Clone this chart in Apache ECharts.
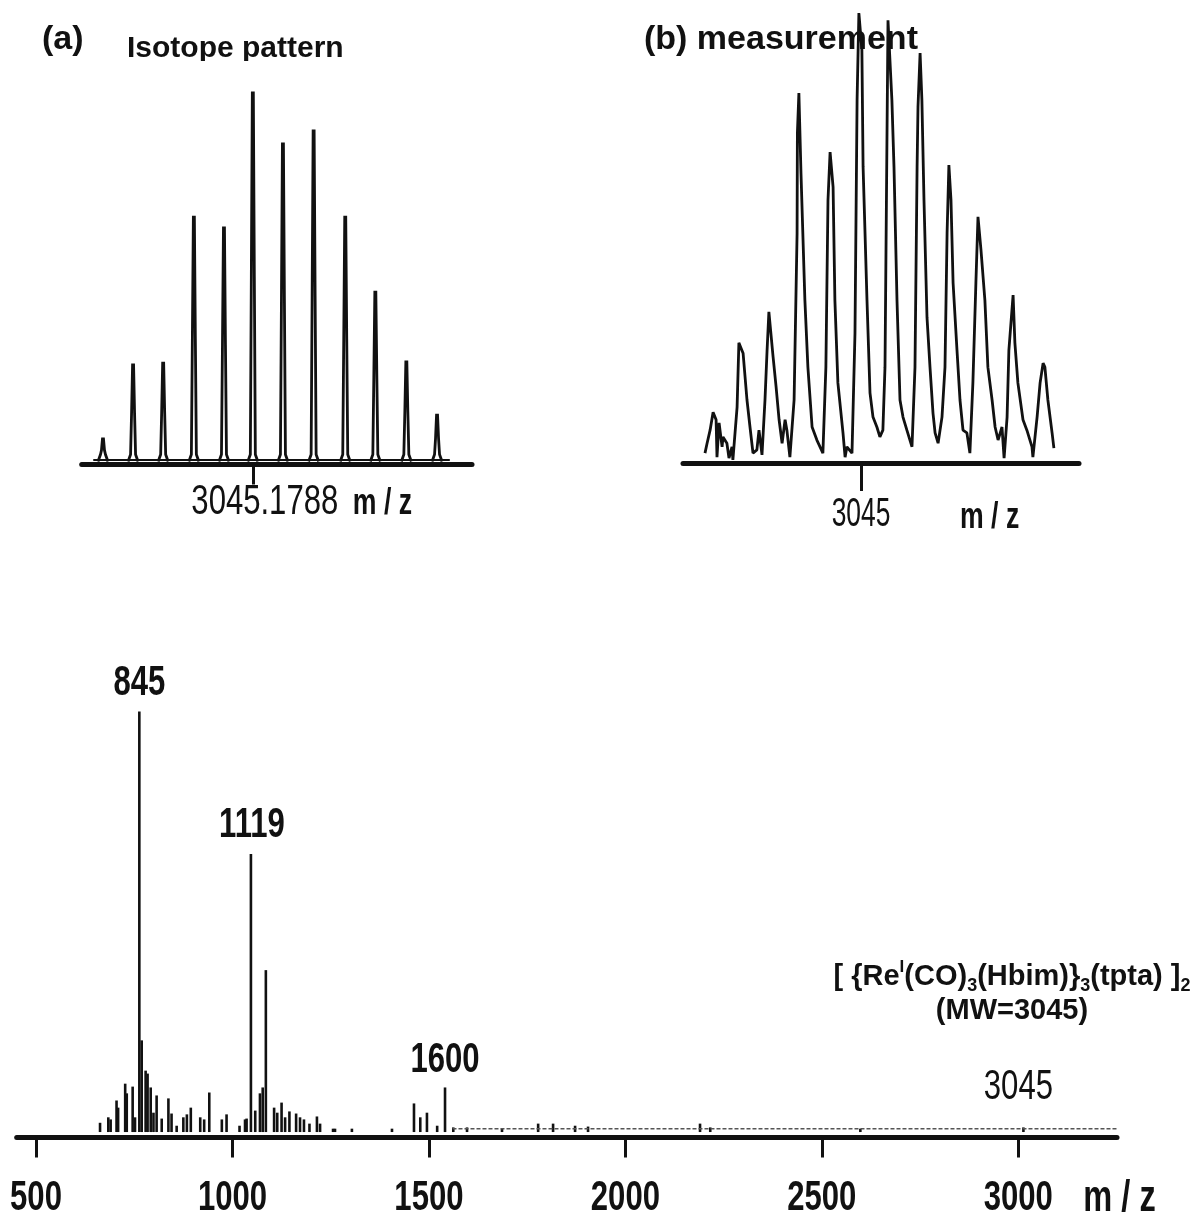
<!DOCTYPE html>
<html>
<head>
<meta charset="utf-8">
<title>MS spectrum</title>
<script src="https://cdn.jsdelivr.net/npm/echarts@6/dist/echarts.min.js"></script>
<style>
  html, body { margin: 0; padding: 0; background: #fff; }
  #chart { width: 1203px; height: 1221px; }
</style>
</head>
<body>
<div id="chart"></div>
<script>
// (a) calculated isotope pattern: peak m/z + relative intensity (%)
const isoMz = [3040.25, 3041.24, 3042.23, 3043.24, 3044.23, 3045.18, 3046.17, 3047.18, 3048.22, 3049.21, 3050.23, 3051.24]
const isoInt = [6.9, 26.8, 27.3, 66.6, 63.7, 100, 86.3, 89.8, 66.6, 46.4, 27.6, 13.3]
const isoBaseline = [[3039.93, 1.2], [3051.66, 1.2]]
const isoTicks = [3045.1788]

// (b) measured trace [m/z, relative intensity]
const measTrace = [
  [3039.80, 2.2], [3039.87, 4.4], [3039.97, 7.3], [3040.07, 11.3], [3040.17, 9.6], [3040.20, 1.3],
  [3040.27, 8.9], [3040.37, 3.6], [3040.40, 5.8], [3040.53, 4.4], [3040.60, 1.1], [3040.70, 3.6],
  [3040.73, 0.7], [3040.87, 12.4], [3040.93, 26.7], [3041.07, 24.4], [3041.20, 14.0], [3041.30, 8.0],
  [3041.40, 2.2], [3041.53, 2.9], [3041.60, 7.3], [3041.70, 1.8], [3041.80, 14.0], [3041.87, 25.1],
  [3041.93, 33.6], [3042.07, 23.6], [3042.17, 16.9], [3042.27, 9.6], [3042.37, 4.4], [3042.47, 9.6],
  [3042.53, 7.3], [3042.63, 1.3], [3042.77, 14.0], [3042.87, 51.1], [3042.88, 73.3], [3042.93, 82.2],
  [3043.00, 64.4], [3043.13, 36.2], [3043.23, 21.3], [3043.37, 8.0], [3043.53, 5.1], [3043.73, 2.2],
  [3043.83, 21.3], [3043.90, 58.4], [3043.97, 69.1], [3044.07, 61.3], [3044.13, 36.2], [3044.23, 17.8],
  [3044.40, 6.7], [3044.47, 1.3], [3044.53, 3.6], [3044.70, 2.2], [3044.80, 28.9], [3044.87, 80.7],
  [3044.93, 100], [3045.03, 91.8], [3045.07, 65.8], [3045.20, 36.2], [3045.30, 15.6], [3045.40, 10.2],
  [3045.53, 8.0], [3045.63, 5.8], [3045.73, 7.3], [3045.80, 21.3], [3045.90, 98.4], [3046.03, 80.7],
  [3046.10, 65.8], [3046.20, 36.2], [3046.30, 14.0], [3046.40, 10.2], [3046.53, 7.3], [3046.70, 3.6],
  [3046.80, 21.3], [3046.87, 65.8], [3046.90, 79.1], [3046.97, 91.1], [3047.03, 80.7], [3047.10, 58.4],
  [3047.20, 32.4], [3047.30, 21.3], [3047.40, 11.1], [3047.47, 6.7], [3047.57, 4.4], [3047.70, 10.2],
  [3047.80, 21.3], [3047.87, 51.1], [3047.93, 66.2], [3048.00, 58.4], [3048.07, 40.0], [3048.20, 25.1],
  [3048.30, 14.0], [3048.40, 7.3], [3048.53, 6.7], [3048.63, 2.2], [3048.73, 17.8], [3048.83, 40.0],
  [3048.90, 54.7], [3049.00, 47.3], [3049.13, 36.2], [3049.23, 21.3], [3049.37, 14.0], [3049.47, 8.0],
  [3049.57, 5.1], [3049.70, 8.0], [3049.77, 1.1], [3049.87, 10.2], [3049.93, 25.1], [3050.07, 37.3],
  [3050.13, 26.7], [3050.23, 17.8], [3050.40, 9.6], [3050.53, 7.3], [3050.70, 3.6], [3050.73, 1.3],
  [3050.87, 10.2], [3050.97, 17.8], [3051.07, 22.2], [3051.13, 21.3], [3051.23, 14.0], [3051.37, 6.7],
  [3051.43, 3.3]
]
const measTicks = [3045]

// full spectrum sticks
const specMz = [663, 684, 690, 705, 709, 727, 731, 746, 752, 763, 769, 779, 784, 792, 799, 807, 820, 837, 845, 858,
  875, 884, 894, 918, 928, 941, 973, 985, 1018, 1032, 1036, 1047, 1058, 1070, 1077, 1085, 1106, 1114, 1125, 1134,
  1145, 1162, 1172, 1182, 1196, 1215, 1223, 1256, 1261, 1304, 1406, 1462, 1478, 1495, 1521, 1541, 1562, 1597, 1686,
  1778, 1816, 1872, 1905, 2190, 2216, 2598, 3013]
const specInt = [2.2, 3.5, 3.0, 7.5, 5.8, 11.5, 9.2, 10.8, 3.5, 100, 21.8, 14.6, 13.9, 10.6, 4.6, 8.7, 3.2, 8.0, 4.4, 1.5,
  3.5, 4.2, 5.8, 3.5, 3.0, 9.4, 3.0, 4.2, 1.5, 3.0, 3.2, 66.1, 5.1, 9.2, 10.6, 38.5, 5.8, 4.6, 7.0, 3.5,
  4.9, 4.4, 3.5, 3.0, 2.0, 3.7, 2.0, 0.8, 0.8, 0.8, 0.8, 6.8, 3.5, 4.6, 1.5, 10.6, 1.1, 1.1, 0.8,
  2.0, 2.0, 1.5, 1.3, 2.0, 1.1, 0.8, 1.1]
const specBaseline = [[1560, 0.8], [3251, 0.8]]
const peakLabels = ['845', '1119', '1600', '3045']
const peakLabelMz = [763, 1047, 1541, 3013]
const peakLabelInt = [100, 66.1, 10.6, 1.1]
const specTicks = [500, 1000, 1500, 2000, 2500, 3000]

const INK = '#111'
const SANS = '"Liberation Sans", Arial, Helvetica, sans-serif'
// the scan uses a condensed Helvetica; squeeze Liberation Sans to match
const SQUEEZE = 0.74

const chart = echarts.init(document.getElementById('chart'), null, { renderer: 'canvas' })

// calculated peak: thin spike with a small foot
function renderIsoPeak(params, api) {
  const top = api.coord([api.value(0), api.value(1)])
  const base = api.coord([api.value(0), 0])
  const x = top[0]
  const b = base[1] - 3
  const t = top[1]
  const mid = b - (b - t) * 0.5
  return {
    type: 'polyline',
    shape: { points: [[x - 5, b], [x - 2.5, b - 7], [x - 1.5, mid], [x - 0.5, t], [x + 0.5, t], [x + 1.5, mid], [x + 2.5, b - 7], [x + 5, b]] },
    style: { stroke: INK, lineWidth: 2.8, fill: null }
  }
}

function renderStick(params, api) {
  const top = api.coord([api.value(0), api.value(1)])
  const base = api.coord([api.value(0), 0])
  return {
    type: 'rect',
    shape: { x: top[0] - 1.3, y: top[1], width: 2.6, height: base[1] - top[1] },
    style: { fill: INK }
  }
}

function xAxisBase(gridIndex, min, max, ticks, tickLen) {
  return {
    type: 'value', gridIndex, min, max,
    axisLine: { show: true, onZero: false, lineStyle: { color: INK, width: 5 } },
    axisTick: { show: true, customValues: ticks, length: tickLen, lineStyle: { color: INK, width: 3 } },
    axisLabel: { show: false },
    splitLine: { show: false }
  }
}

function squeezed(text, x, y, size, weight, align, scale) {
  return {
    type: 'text', x, y, scaleX: scale || SQUEEZE,
    style: {
      text, font: weight + ' ' + size + 'px ' + SANS, fill: INK,
      textAlign: align || 'center', textVerticalAlign: 'middle'
    }
  }
}

chart.setOption({
  animation: false,
  backgroundColor: '#fff',
  grid: [
    { left: 81.7, top: 93, width: 390.3, height: 371.5, outerBoundsMode: 'none' },
    { left: 683, top: 13, width: 396, height: 450, outerBoundsMode: 'none' },
    { left: 16.7, top: 711.5, width: 1100.3, height: 426, outerBoundsMode: 'none' }
  ],
  xAxis: [
    xAxisBase(0, 3039.55, 3052.39, isoTicks, 20),
    xAxisBase(1, 3039.067, 3052.267, measTicks, 28),
    xAxisBase(2, 450.9, 3251.2, specTicks, 20)
  ],
  yAxis: [
    { type: 'value', gridIndex: 0, min: 0, max: 100, show: false },
    { type: 'value', gridIndex: 1, min: 0, max: 100, show: false },
    { type: 'value', gridIndex: 2, min: -1.3, max: 100, show: false }
  ],
  series: [
    {
      name: 'isotope baseline', type: 'line', xAxisIndex: 0, yAxisIndex: 0,
      data: isoBaseline, showSymbol: false, lineStyle: { color: INK, width: 2 }, silent: true
    },
    {
      name: 'isotope pattern', type: 'custom', xAxisIndex: 0, yAxisIndex: 0,
      encode: { x: 0, y: 1 }, renderItem: renderIsoPeak,
      data: isoMz.map((m, i) => [m, isoInt[i]])
    },
    {
      name: 'measurement', type: 'line', xAxisIndex: 1, yAxisIndex: 1,
      data: measTrace, showSymbol: false, lineStyle: { color: INK, width: 2.8 }
    },
    {
      name: 'spectrum baseline', type: 'line', xAxisIndex: 2, yAxisIndex: 2,
      data: specBaseline, showSymbol: false, lineStyle: { color: '#555', width: 1.5, type: [4, 2] }, silent: true
    },
    {
      name: 'spectrum', type: 'custom', xAxisIndex: 2, yAxisIndex: 2,
      encode: { x: 0, y: 1 }, renderItem: renderStick,
      data: specMz.map((m, i) => [m, specInt[i]])
    }
  ]
})

// ==================== text laid out from the axes ====================

const toPx = (grid, v) => chart.convertToPixel({ gridIndex: grid }, v)

const graphics = [
  { type: 'text', left: 42, top: 23, style: { text: '(a)', font: 'bold 34px ' + SANS, fill: INK } },
  { type: 'text', left: 127, top: 34, style: { text: 'Isotope pattern', font: 'bold 30px ' + SANS, fill: INK } },
  { type: 'rect', left: 120, top: 61, z: 100, shape: { width: 235, height: 14 }, style: { fill: '#fff' } },
  { type: 'text', left: 644, top: 23, style: { text: '(b) measurement', font: 'bold 34px ' + SANS, fill: INK } },
  {
    type: 'text', x: 1012, y: 977,
    style: {
      text: '[ {Re{sup|I}(CO){sub|3}(Hbim)}{sub|3}(tpta) ]{sub|2}',
      font: 'bold 29px ' + SANS, fill: INK, lineHeight: 36,
      textAlign: 'center', textVerticalAlign: 'middle',
      rich: {
        sup: { fontSize: 17, fontWeight: 'bold', fontFamily: SANS, lineHeight: 17, verticalAlign: 'top', fill: INK },
        sub: { fontSize: 18, fontWeight: 'bold', fontFamily: SANS, lineHeight: 18, verticalAlign: 'bottom', fill: INK }
      }
    }
  },
  {
    type: 'text', x: 1012, y: 1011,
    style: { text: '(MW=3045)', font: 'bold 29px ' + SANS, fill: INK, textAlign: 'center', textVerticalAlign: 'middle' }
  }
]

// (a) tick label + unit
isoTicks.forEach(v => {
  const p = toPx(0, [v, 0])
  graphics.push(squeezed(v.toFixed(4), p[0] + 12, p[1] + 38, 42, 'normal'))
  graphics.push(squeezed('m / z', p[0] + 100, p[1] + 40, 36, 'bold', 'left'))
})

// (b) tick label + unit
measTicks.forEach(v => {
  const p = toPx(1, [v, 0])
  graphics.push(squeezed(String(v), p[0], p[1] + 52, 40, 'normal', 'center', 0.66))
  graphics.push(squeezed('m / z', p[0] + 99, p[1] + 55, 36, 'bold', 'left'))
})

// full spectrum tick labels + unit
specTicks.forEach(v => {
  const p = toPx(2, [v, -1.3])
  graphics.push(squeezed(String(v), p[0], p[1] + 61, 42, 'bold'))
})
const lastTick = toPx(2, [specTicks[specTicks.length - 1], -1.3])
graphics.push(squeezed('m / z', lastTick[0] + 65, lastTick[1] + 61, 44, 'bold', 'left'))

// labelled peaks
const labelDx = [0, 1, 0, -5]
const labelDy = [-28, -29, -27, -40]
const labelWeight = ['bold', 'bold', 'bold', 'normal']
peakLabels.forEach((txt, i) => {
  const p = toPx(2, [peakLabelMz[i], peakLabelInt[i]])
  graphics.push(squeezed(txt, p[0] + labelDx[i], p[1] + labelDy[i], 42, labelWeight[i]))
})

chart.setOption({ graphic: { elements: graphics } })
</script>
</body>
</html>
